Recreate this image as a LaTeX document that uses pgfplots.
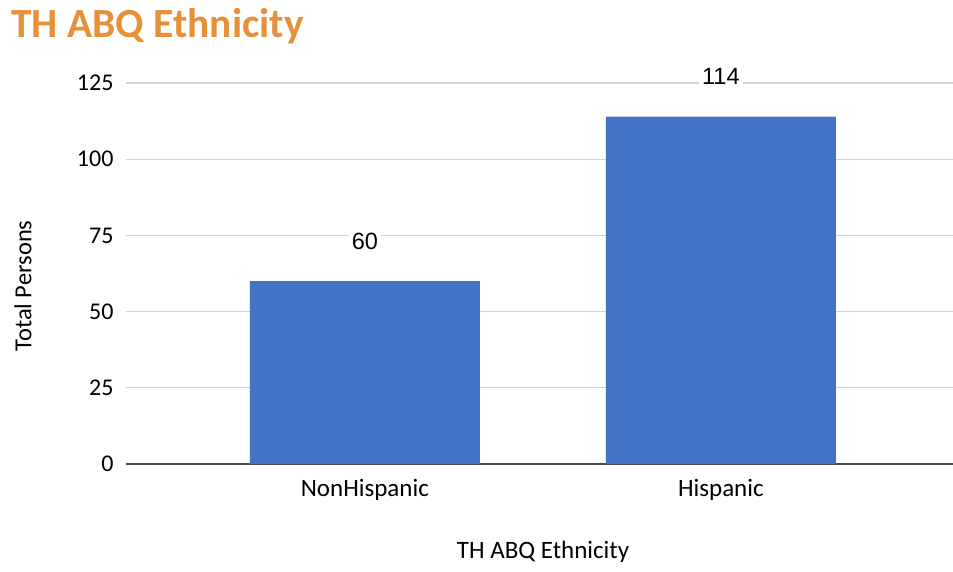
\documentclass[border=0pt]{standalone}
\usepackage{pgfplots}
\pgfplotsset{compat=1.18}
\usepackage{fontspec}
\setmainfont{Carlito}
\newfontfamily\arialfont{Liberation Sans}
\definecolor{barblue}{HTML}{4472C4}
\definecolor{titleorange}{HTML}{E69138}
\definecolor{gridgray}{HTML}{D3D3D3}
\begin{document}
\begin{tikzpicture}[x=1pt,y=1pt]
\useasboundingbox (0,0) rectangle (953,571);
\node[anchor=base west, inner sep=0, text=titleorange,
      font=\fontsize{41.5}{47}\selectfont\bfseries] at (11,533) {TH ABQ Ethnicity};
\node[rotate=90, inner sep=0, font=\fontsize{24.5}{28}\selectfont] at (23,285) {Total Persons};
\node[inner sep=0, font=\fontsize{25}{29}\selectfont] at (543,19) {TH ABQ Ethnicity};
\begin{axis}[
    at={(126pt,107pt)}, anchor=south west,
    scale only axis, width=827pt, height=381pt,
    xmin=-0.671, xmax=1.652, ymin=0, ymax=125,
    axis x line=bottom, axis y line=left,
    y axis line style={draw=none},
    x axis line style={draw=black!70, line width=1.6pt, -},
    ytick={0,25,50,75,100,125},
    ymajorgrids, grid style={gridgray, line width=1.3pt},
    major tick length=0pt,
    xtick={0,1}, xticklabels={NonHispanic,Hispanic},
    /pgf/number format/assume math mode=true,
    yticklabel style={font=\fontsize{24}{28}\selectfont, xshift=-9pt},
    xticklabel style={font=\fontsize{25}{29}\selectfont, yshift=-12pt},
    ybar, bar width=230pt,
    nodes near coords,
    nodes near coords style={font=\arialfont\fontsize{23.5}{27}\selectfont,
        anchor=base, yshift=32pt, fill=white, inner sep=3pt},
    clip=false,
]
\addplot[fill=barblue, draw=none] coordinates {(0,60) (1,114)};
\end{axis}
\end{tikzpicture}
\end{document}
